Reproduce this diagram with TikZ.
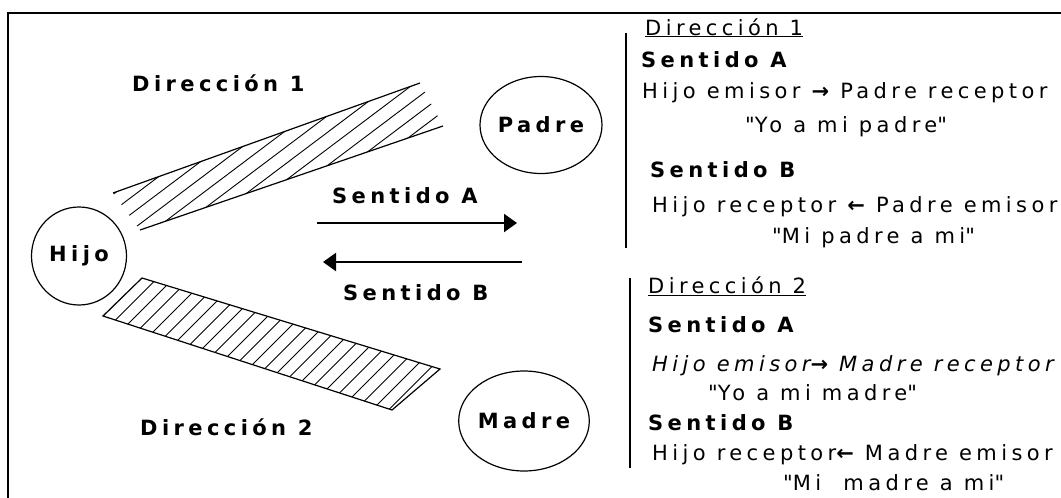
\documentclass[tikz,border=0pt]{standalone}
\usepackage{fontspec}
\setmainfont{DejaVu Sans}[LetterSpace=21]
\font\qf="DejaVu Sans" at 21pt
\newcommand\comillas{{\qf"}}
\usetikzlibrary{shapes.geometric,arrows.meta}

\begin{document}
\begin{tikzpicture}[x=1pt,y=1pt,yscale=-1,xscale=1,
    persona/.style={draw,ellipse,line width=1.2pt,inner sep=0pt,font=\fontsize{21}{24}\selectfont\bfseries},
    rotulo/.style={anchor=base west,inner sep=0pt,font=\fontsize{21}{24}\selectfont\bfseries},
    texto/.style={anchor=base west,inner sep=0pt,font=\fontsize{21}{24}\selectfont},
    sentido/.style={line width=2.2pt,-{Triangle[length=13pt,width=18pt]}},
    borde/.style={line width=1.2pt},
    raya/.style={line width=0.9pt}]
    \useasboundingbox (0,0) rectangle (1061,498);
    % marco
    \draw [line width=1.5pt] (8,498) -- (8,13) -- (1061,13);
    % personas
    \node [persona,minimum width=95pt,minimum height=98pt] (hijo) at (79,256) {Hijo};
    \node [persona,minimum width=118pt,minimum height=97pt] (padre) at (541,125) {Padre};
    \node [persona,minimum width=115pt,minimum height=100pt] (madre) at (524,421) {Madre};
    % banda direccion 1
    \coordinate (b1a) at (113,193);
    \coordinate (b1b) at (420,83);
    \coordinate (b1c) at (443,126);
    \coordinate (b1d) at (140,230);
    \begin{scope}
        \clip (b1a) -- (b1b) -- (b1c) -- (b1d) -- cycle;
        \foreach \x in {-150,-128,...,460} \draw [raya] (\x,260) -- ++(300,-226);
    \end{scope}
    \draw [borde] (b1a) -- (b1b) (b1d) -- (b1c);
    % banda direccion 2
    \coordinate (b2a) at (142,278);
    \coordinate (b2b) at (440,369);
    \coordinate (b2c) at (392,410);
    \coordinate (b2d) at (103,316);
    \begin{scope}
        \clip (b2a) -- (b2b) -- (b2c) -- (b2d) -- cycle;
        \foreach \k in {0,...,30} \draw [raya] ({-1+16.5*\k},420) -- ++(200,-200);
    \end{scope}
    \draw [borde] (b2a) -- (b2b) -- (b2c) -- (b2d) -- cycle;
    % sentidos
    \coordinate (a1) at (317,223);
    \coordinate (a2) at (517,223);
    \coordinate (c1) at (522,262);
    \coordinate (c2) at (323,262);
    \draw [sentido] (a1) -- (a2);
    \draw [sentido] (c1) -- (c2);
    \node [rotulo] (dir1) at (132,91) {Dirección 1};
    \node [rotulo] (senA) at (332,203) {Sentido A};
    \node [rotulo] (senB) at (343,300) {Sentido B};
    \node [rotulo] (dir2) at (140,435) {Dirección 2};
    % columna derecha
    \draw [line width=1.3pt] (626,33) -- (626,248);
    \draw [line width=1.3pt] (630,278) -- (630,468);
    \node [texto] (t1) at (645,35) {\underline{Dirección 1}};
    \node [rotulo] (t1a) at (641,67) {Sentido A};
    \node [texto] (t1b) at (642,98) {Hijo emisor {\bfseries →} Padre receptor};
    \node [texto] (t1c) at (745,132) {\comillas Yo a mi padre\comillas};
    \node [rotulo] (t1d) at (650,177) {Sentido B};
    \node [texto] (t1e) at (652,212) {Hijo receptor {\bfseries ←} Padre emisor};
    \node [texto] (t1f) at (772,243) {\comillas Mi padre a mi\comillas};
    \node [texto] (t2) at (648,293) {\underline{Dirección 2}};
    \node [rotulo] (t2a) at (648,332) {Sentido A};
    \node [texto,font=\fontsize{21}{24}\selectfont\itshape] (t2b) at (652,371) {Hijo emisor{\bfseries →} Madre receptor};
    \node [texto] (t2c) at (708,400) {\comillas Yo a mi madre\comillas};
    \node [rotulo] (t2d) at (648,430) {Sentido B};
    \node [texto] (t2e) at (652,460) {Hijo receptor{\bfseries ←} Madre emisor};
    \node [texto] (t2f) at (783,490) {\comillas Mi\ \ madre a mi\comillas};
\end{tikzpicture}
\end{document}
